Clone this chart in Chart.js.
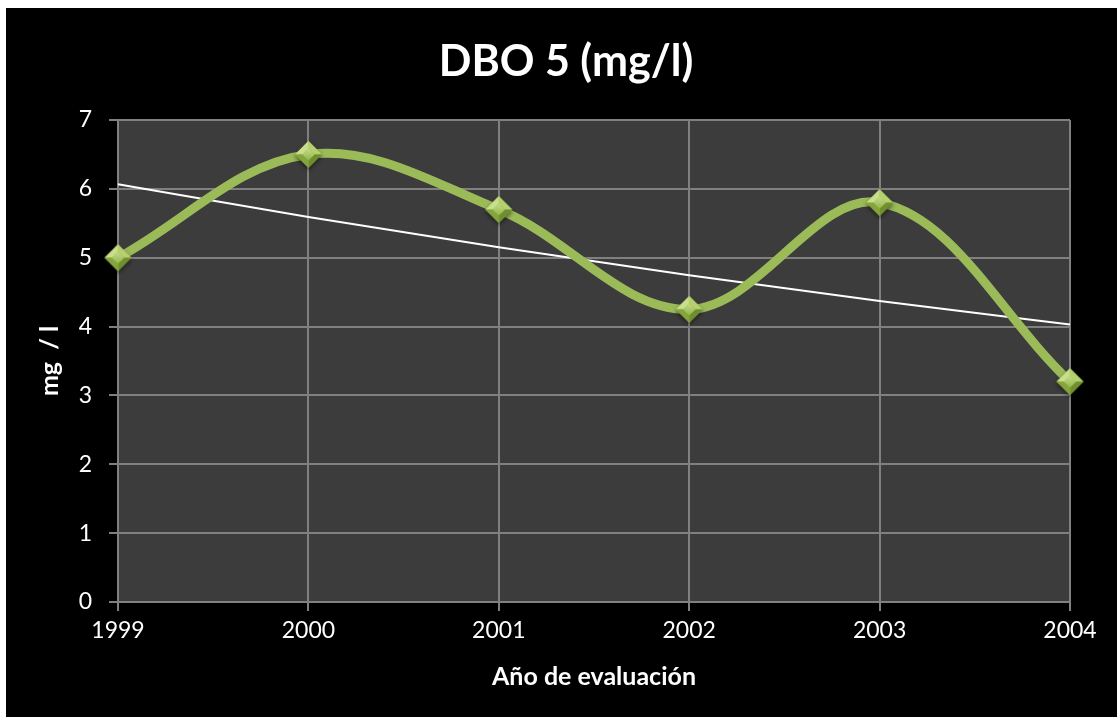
<!DOCTYPE html>
<html>
<head>
<meta charset="utf-8">
<script src="https://cdn.jsdelivr.net/npm/chart.js@4.4.0/dist/chart.umd.min.js"></script>
<style>
  html, body { margin: 0; padding: 0; background: #ffffff; }
  #wrap { position: absolute; left: 6px; top: 8px; width: 1111px; height: 709px; background: #000000; }
  canvas { display: block; }
</style>
</head>
<body>
<div id="wrap"><canvas id="chart" width="1111" height="709"></canvas></div>
<script>
// DBO 5 readings per evaluation year
const years = ['1999', '2000', '2001', '2002', '2003', '2004'];
const dbo5 = [5.0, 6.5, 5.7, 4.25, 5.8, 3.2];
const yMin = 0;
const yMax = 7;
const yStep = 1;

// Exponential trend line y = b * e^(c*x), least squares on ln(y)
function exponentialTrend(values) {
  const n = values.length;
  const xs = values.map((_, i) => i);
  const ls = values.map(v => Math.log(v));
  const mx = xs.reduce((a, b) => a + b, 0) / n;
  const ml = ls.reduce((a, b) => a + b, 0) / n;
  let sxy = 0, sxx = 0;
  for (let i = 0; i < n; i++) {
    sxy += (xs[i] - mx) * (ls[i] - ml);
    sxx += (xs[i] - mx) * (xs[i] - mx);
  }
  const c = sxy / sxx;
  const lnb = ml - c * mx;
  return xs.map(x => Math.exp(lnb + c * x));
}
const trend = exponentialTrend(dbo5);

// Beveled green diamond used as the point marker
function makeDiamond(r) {
  const pad = 5;
  const size = Math.ceil(2 * r + 2 * pad);
  const cv = document.createElement('canvas');
  cv.width = size; cv.height = size;
  const g = cv.getContext('2d');
  const cx = size / 2, cy = size / 2;
  // soft shadow
  g.save();
  g.shadowColor = 'rgba(0,0,0,0.55)';
  g.shadowBlur = 4;
  g.shadowOffsetY = 2;
  g.beginPath();
  g.moveTo(cx, cy - r); g.lineTo(cx + r, cy); g.lineTo(cx, cy + r); g.lineTo(cx - r, cy); g.closePath();
  g.fillStyle = '#8aab46';
  g.fill();
  g.restore();
  const facet = (pts, col) => {
    g.beginPath();
    g.moveTo(pts[0][0], pts[0][1]);
    for (let i = 1; i < pts.length; i++) g.lineTo(pts[i][0], pts[i][1]);
    g.closePath();
    g.fillStyle = col;
    g.fill();
  };
  const T = [cx, cy - r], R = [cx + r, cy], B = [cx, cy + r], L = [cx - r, cy];
  const k = 0.45;
  const iT = [cx, cy - r * k], iR = [cx + r * k, cy], iB = [cx, cy + r * k], iL = [cx - r * k, cy];
  facet([T, R, iR, iT], '#b5d06e');
  facet([L, T, iT, iL], '#c9df8e');
  facet([R, B, iB, iR], '#6f8f2f');
  facet([B, L, iL, iB], '#84a53c');
  const grd = g.createLinearGradient(cx, cy - r * k, cx, cy + r * k);
  grd.addColorStop(0, '#c6de86');
  grd.addColorStop(1, '#93b44c');
  facet([iT, iR, iB, iL], grd);
  return cv;
}
const marker = makeDiamond(13.5);

const plotBackground = {
  id: 'plotBackground',
  beforeDraw(chart) {
    const { ctx, chartArea: a } = chart;
    ctx.save();
    ctx.fillStyle = '#3c3c3c';
    ctx.fillRect(a.left, a.top, a.right - a.left, a.bottom - a.top);
    ctx.restore();
  }
};

const FONT = 'Lato, Carlito, Calibri, "Noto Sans", sans-serif';

new Chart(document.getElementById('chart'), {
  type: 'line',
  data: {
    labels: years,
    datasets: [
      {
        label: 'Exponencial (DBO 5)',
        data: trend,
        borderColor: '#ffffff',
        borderWidth: 2,
        pointRadius: 0,
        tension: 0.4,
        cubicInterpolationMode: 'monotone',
        order: 2
      },
      {
        label: 'DBO 5',
        data: dbo5,
        borderColor: '#9bbb59',
        borderWidth: 9,
        tension: 0.36,
        pointStyle: marker,
        pointRadius: 14,
        pointHoverRadius: 14,
        order: 1
      }
    ]
  },
  options: {
    responsive: false,
    animation: false,
    events: [],
    layout: { padding: { left: 9, right: 0, top: 0, bottom: 6 } },
    plugins: {
      legend: { display: false },
      tooltip: { enabled: false },
      title: {
        display: true,
        text: 'DBO 5 (mg/l)',
        color: '#ffffff',
        font: { family: FONT, size: 43, weight: 'bold', lineHeight: 1.2 },
        padding: { top: 28, bottom: 32.4 }
      }
    },
    scales: {
      x: {
        type: 'category',
        offset: false,
        grid: { color: '#808080', lineWidth: 2, tickLength: 9, drawTicks: true },
        border: { color: '#808080', width: 2 },
        ticks: { color: '#ffffff', font: { family: FONT, size: 23 }, padding: 6, maxRotation: 0 },
        title: {
          display: true,
          text: 'Año de evaluación',
          color: '#ffffff',
          font: { family: FONT, size: 25, weight: 'bold', lineHeight: 1.2 },
          padding: { top: 0, bottom: 19 }
        },
        afterFit(scale) {
          scale.height = 109;
          scale.paddingRight = 47;
        }
      },
      y: {
        min: yMin,
        max: yMax,
        grid: { color: '#808080', lineWidth: 2, tickLength: 9, drawTicks: true },
        border: { color: '#808080', width: 2 },
        ticks: { stepSize: yStep, color: '#ffffff', font: { family: FONT, size: 23 }, padding: 17 },
        title: {
          display: true,
          text: 'mg  / l',
          color: '#ffffff',
          font: { family: FONT, size: 25, weight: 'bold', lineHeight: 1.2 },
          padding: { top: 20, bottom: 0 }
        },
        afterFit(scale) { scale.width = 103; }
      }
    }
  },
  plugins: [plotBackground]
});
</script>
</body>
</html>
